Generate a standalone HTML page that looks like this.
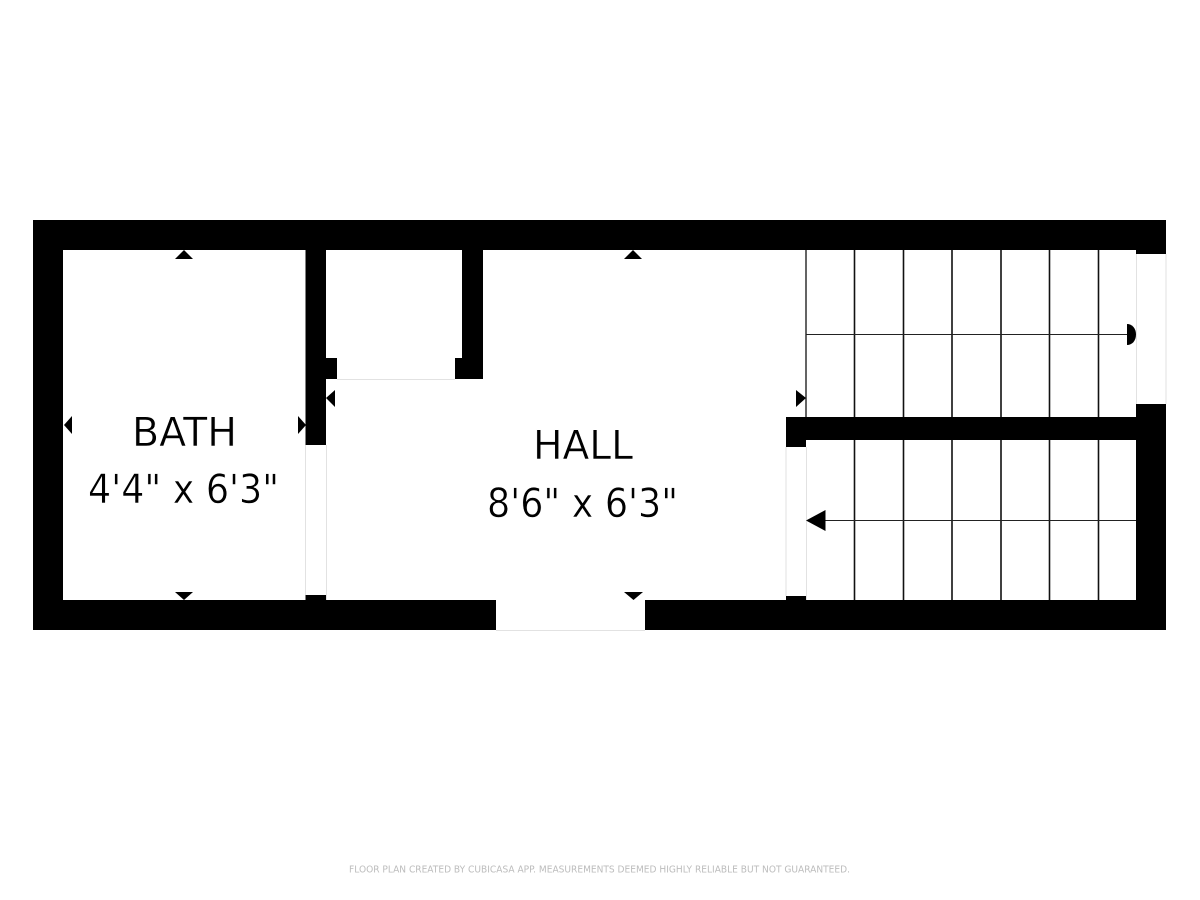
<!DOCTYPE html>
<html>
<head>
<meta charset="utf-8">
<style>
html,body{margin:0;padding:0;background:#fff;width:1200px;height:900px;overflow:hidden}
svg{display:block}
text{font-family:"DejaVu Sans","Liberation Sans",sans-serif;fill:#000}
.l{stroke:#fff;stroke-width:.5px}
</style>
</head>
<body>
<svg width="1200" height="900" viewBox="0 0 1200 900" xmlns="http://www.w3.org/2000/svg">
<rect width="1200" height="900" fill="#fff"/>
<!-- stair lines -->
<g stroke="#111" stroke-width="1.6">
<path d="M854.5 250V417M903.5 250V417M952 250V417M1001 250V417M1049.5 250V417M1098.5 250V417"/>
<path d="M854.5 440V600M903.5 440V600M952 440V600M1001 440V600M1049.5 440V600M1098.5 440V600"/>
<path d="M806 250V417" stroke-width="1.3"/>
<path d="M806 334.500H1128M824 520.500H1136" stroke-width="1.1" stroke="#222"/>
</g>
<!-- thin door/window lines -->
<g stroke="#e2e2e2" stroke-width="1" fill="none">
<path d="M305.500 445V595M326.500 445V600M786 447V596M806.500 447V600M337 379.500H455M1136.500 254V404M1166 254V404M496 630.500H645"/>
</g>
<!-- walls -->
<g fill="#000">
<rect x="33" y="220" width="1133" height="30"/>
<rect x="1136" y="220" width="30" height="34"/>
<rect x="33" y="220" width="30" height="410"/>
<rect x="33" y="600" width="463" height="30"/>
<rect x="645" y="600" width="521" height="30"/>
<rect x="1136" y="404" width="30" height="226"/>
<rect x="305.500" y="250" width="20.500" height="195"/>
<rect x="305.500" y="358" width="31.500" height="21"/>
<rect x="462" y="250" width="21" height="129"/>
<rect x="455" y="358" width="28" height="21"/>
<rect x="786" y="417" width="350" height="23"/>
<rect x="786" y="417" width="20" height="30"/>
<rect x="305.500" y="595" width="20.500" height="5"/>
<rect x="786" y="596" width="20" height="4"/>
<!-- dimension markers -->
<polygon points="184,250 193,259 175,259"/>
<polygon points="633,250 642,259 624,259"/>
<polygon points="175,592 193,592 184,600"/>
<polygon points="624,592 643,592 633.500,600"/>
<polygon points="64,425 72,416 72,434"/>
<polygon points="306,425 298,416 298,434"/>
<polygon points="326,398 335,390 335,407"/>
<polygon points="806,398 796,390 796,407"/>
<!-- stair arrows -->
<polygon points="806,520.500 825.500,510 825.500,531"/>
<path d="M1127 324C1132 324 1136 328 1136 334.500C1136 341 1132 345 1127 345Z"/>
</g>
<!-- labels -->
<text class="l" x="132" y="446" font-size="40" textLength="105" lengthAdjust="spacingAndGlyphs">BATH</text>
<text class="l" x="88" y="503" font-size="40" textLength="191" lengthAdjust="spacingAndGlyphs">4'4" x 6'3"</text>
<text class="l" x="533" y="459" font-size="40" textLength="100" lengthAdjust="spacingAndGlyphs">HALL</text>
<text class="l" x="487" y="517" font-size="40" textLength="191" lengthAdjust="spacingAndGlyphs">8'6" x 6'3"</text>
<text x="349" y="872.500" font-size="10" textLength="501" lengthAdjust="spacingAndGlyphs" style="fill:#bcbcbc">FLOOR PLAN CREATED BY CUBICASA APP. MEASUREMENTS DEEMED HIGHLY RELIABLE BUT NOT GUARANTEED.</text>
</svg>
</body>
</html>
